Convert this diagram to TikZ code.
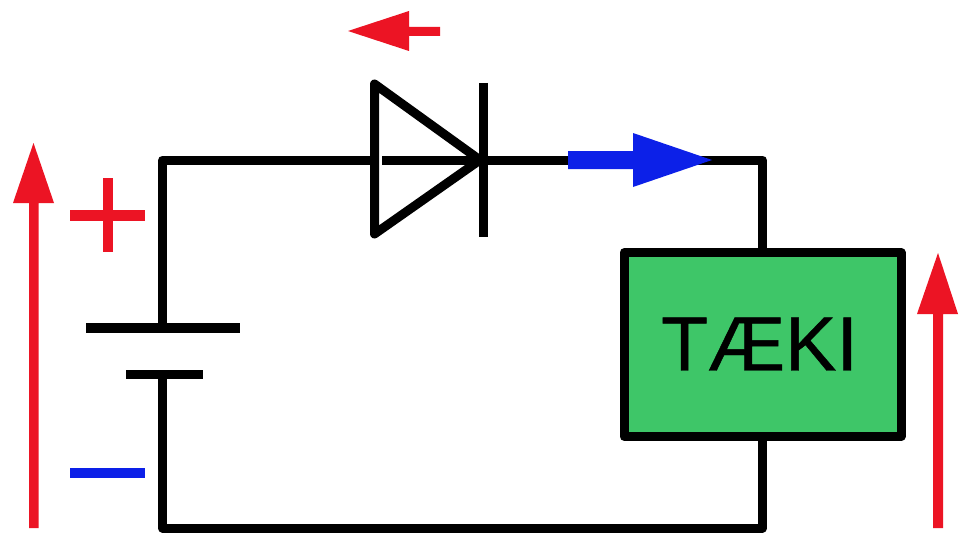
\documentclass[tikz,border=0pt]{standalone}
\usepackage{fontspec}
\setmainfont{Liberation Sans}
\newfontfamily\devfont[FakeBold=0.6]{Liberation Sans}
\begin{document}
\begin{tikzpicture}[x=1pt,y=-1pt,
  wire/.style={line width=9pt,draw=black,line cap=butt,line join=round},
  plate/.style={line width=9.5pt,draw=black,line cap=butt},
  ]
\definecolor{myred}{RGB}{236,20,36}
\definecolor{myblue}{RGB}{12,32,232}
\definecolor{mygreen}{RGB}{62,198,104}
\useasboundingbox (0,0) rectangle (959,535);
\fill[white] (0,0) rectangle (959,535);
% coordinates
\coordinate (tl) at (162.5,160);
\coordinate (tr) at (762.5,160);
\coordinate (bl) at (162.5,528);
\coordinate (br) at (762.5,528);
\coordinate (batp) at (162.5,328);
\coordinate (batn) at (162.5,375);
\coordinate (da) at (374.5,160);
\coordinate (db) at (382,160);
\coordinate (dc) at (483,160);
% device
\draw[wire,fill=mygreen] (624,252.5) rectangle (901,436.5);
\node[draw=none,minimum width=277pt,minimum height=184pt,inner sep=0,outer sep=0] (dev) at (762.5,344.5) {};
\node[font=\devfont\fontsize{77}{77}\selectfont,text=black,inner sep=0] (devt) at (759.5,344) {TÆKI};
% wires
\draw[wire] (batp) -- (tl) -- (da);
\draw[wire] (db) -- (dc) -- (tr) -- (dev.north -| tr);
\draw[wire] (batn) -- (bl) -- (br) -- (dev.south -| br);
% battery
\coordinate (p1) at (86,328); \coordinate (p2) at (240,328);
\coordinate (n1) at (126,374.5); \coordinate (n2) at (203,374.5);
\draw[plate] (p1) -- (p2);
\draw[plate] (n1) -- (n2);
% diode
\coordinate (d1) at (374.5,84); \coordinate (d2) at (374.5,234); \coordinate (d3) at (480,160);
\draw[wire] (d1) -- (d3) -- (d2) -- cycle;
\coordinate (k1) at (483,83); \coordinate (k2) at (483,237);
\draw[wire] (k1) -- (k2);
% red small arrow
\fill[myred] (348,31) -- (409,11) -- (409,27) -- (440,27) -- (440,36) -- (409,36) -- (409,51) -- cycle;
% blue arrow
\fill[myblue] (712,160) -- (633,133) -- (633,151) -- (568,151) -- (568,169) -- (633,169) -- (633,187) -- cycle;
% left red arrow
\fill[myred] (33.5,143) -- (54,203) -- (38.5,203) -- (38.5,528) -- (29,528) -- (29,203) -- (13,203) -- cycle;
% right red arrow
\fill[myred] (938,253) -- (958,314) -- (943,314) -- (943,528) -- (933,528) -- (933,314) -- (917,314) -- cycle;
% plus
\fill[myred] (70,210) rectangle (145,220.5);
\fill[myred] (103,178) rectangle (113,252);
% minus
\fill[myblue] (70,468) rectangle (145,478);
\end{tikzpicture}
\end{document}
